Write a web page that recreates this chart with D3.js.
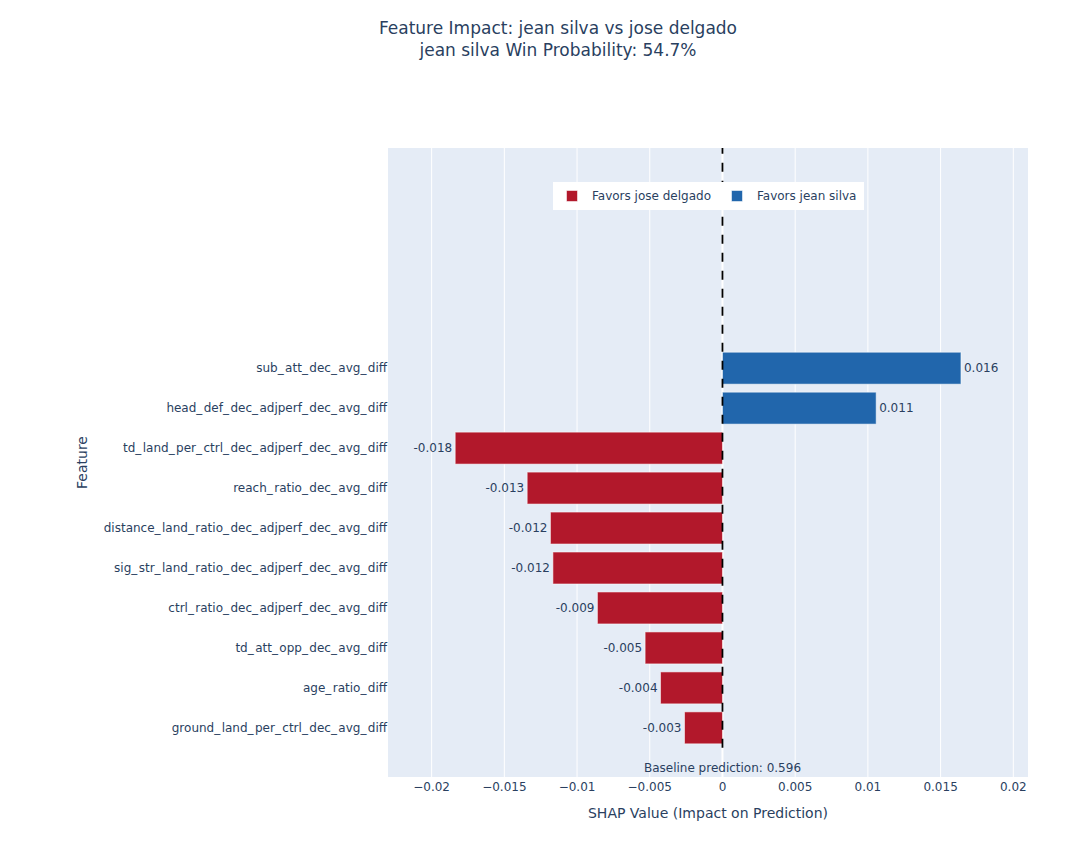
<!DOCTYPE html>
<html>
<head>
<meta charset="utf-8">
<script src="https://cdn.jsdelivr.net/npm/d3@7/dist/d3.min.js"></script>
<style>
  body { margin: 0; background: #fff; }
  svg { font-family: "DejaVu Sans", Verdana, sans-serif; }
</style>
</head>
<body>
<svg id="chart" width="1087" height="860"></svg>
<script>
// Data (top to bottom as displayed)
const features = [
  "sub_att_dec_avg_diff",
  "head_def_dec_adjperf_dec_avg_diff",
  "td_land_per_ctrl_dec_adjperf_dec_avg_diff",
  "reach_ratio_dec_avg_diff",
  "distance_land_ratio_dec_adjperf_dec_avg_diff",
  "sig_str_land_ratio_dec_adjperf_dec_avg_diff",
  "ctrl_ratio_dec_adjperf_dec_avg_diff",
  "td_att_opp_dec_avg_diff",
  "age_ratio_diff",
  "ground_land_per_ctrl_dec_avg_diff"
];
const shapValues = [0.0164, 0.01057, -0.01838, -0.01343, -0.01183, -0.01166, -0.0086, -0.00532, -0.00426, -0.00261];
const xTicks = [-0.02, -0.015, -0.01, -0.005, 0, 0.005, 0.01, 0.015, 0.02];
const legendLabels = ["Favors jose delgado", "Favors jean silva"];
const titleLines = ["Feature Impact: jean silva vs jose delgado", "jean silva Win Probability: 54.7%"];
const baseline = 0.596;

const RED = "#b2182b", BLUE = "#2166ac", TXT = "#2a3f5f";
const svg = d3.select("#chart");
const L = 388, R = 1028, T = 148, B = 777;

const x = d3.scaleLinear().domain([-0.02300, 0.02101]).range([L, R]);
// category index: bottom feature = 0
const n = features.length;
const y = d3.scaleLinear().domain([-1.23, 14.51]).range([B, T]);
const idx = i => n - 1 - i;

// background
svg.append("rect").attr("x", L).attr("y", T).attr("width", R - L).attr("height", B - T).attr("fill", "#e5ecf6");

// grid
const g = svg.append("g");
g.selectAll("line.grid").data(xTicks).enter().append("line")
  .attr("x1", d => x(d)).attr("x2", d => x(d)).attr("y1", T).attr("y2", B)
  .attr("stroke", "#fff").attr("stroke-width", d => d === 0 ? 2 : 1);

// bars
const barH = (y(0) - y(0.8));
svg.append("g").selectAll("rect").data(shapValues).enter().append("rect")
  .attr("x", d => Math.min(x(0), x(d)))
  .attr("width", d => Math.abs(x(d) - x(0)))
  .attr("y", (d, i) => y(idx(i)) - barH / 2)
  .attr("height", barH)
  .attr("fill", d => d < 0 ? RED : BLUE)
  .attr("stroke", "rgba(255,255,255,0.55)").attr("stroke-width", 1);

// value labels
svg.append("g").selectAll("text").data(shapValues).enter().append("text")
  .attr("x", d => d < 0 ? x(d) - 3 : x(d) + 3)
  .attr("y", (d, i) => y(idx(i)))
  .attr("dy", "0.35em")
  .attr("text-anchor", d => d < 0 ? "end" : "start")
  .attr("font-size", 12).attr("fill", TXT)
  .text(d => d.toFixed(3));

// zero dashed line (from below the last bar up to the top of the plot)
svg.append("line").attr("x1", x(0)).attr("x2", x(0)).attr("y1", y(-0.5)).attr("y2", T)
  .attr("stroke", "#000").attr("stroke-width", 1.8).attr("stroke-dasharray", "9,9");

// x axis tick labels
const fmtX = d => d === 0 ? "0" : String(d).replace("-", "\u2212");
svg.append("g").selectAll("text").data(xTicks).enter().append("text")
  .attr("x", d => x(d)).attr("y", B + 14)
  .attr("text-anchor", "middle").attr("font-size", 12).attr("fill", TXT)
  .text(fmtX);

// y axis tick labels (underscores slightly wider, like Verdana)
svg.append("g").selectAll("text").data(features).enter().append("text")
  .attr("x", L - 1).attr("y", (d, i) => y(idx(i)))
  .attr("dy", "0.35em").attr("text-anchor", "end")
  .attr("font-size", 12).attr("fill", TXT)
  .each(function (d) {
    const t = d3.select(this);
    d.split(/(_)/).filter(s => s.length).forEach(part => {
      const ts = t.append("tspan").text(part);
      if (part === "_") ts.attr("letter-spacing", "1.4px");
    });
  });

// baseline annotation
svg.append("text").attr("x", x(0)).attr("y", B - 9)
  .attr("dy", "0.35em").attr("text-anchor", "middle").attr("font-size", 12).attr("fill", TXT)
  .text("Baseline prediction: " + baseline.toFixed(3));

// axis titles
svg.append("text").attr("x", (L + R) / 2).attr("y", 818)
  .attr("text-anchor", "middle").attr("font-size", 14).attr("fill", TXT)
  .text("SHAP Value (Impact on Prediction)");
svg.append("text").attr("transform", `translate(87,${(T + B) / 2}) rotate(-90)`)
  .attr("text-anchor", "middle").attr("font-size", 14).attr("fill", TXT)
  .text("Feature");

// title
svg.append("g").selectAll("text").data(titleLines).enter().append("text")
  .attr("x", 558).attr("y", (d, i) => 34 + i * 22)
  .attr("text-anchor", "middle").attr("font-size", 17).attr("fill", TXT)
  .text(d => d);

// legend
const lg = svg.append("g");
lg.append("rect").attr("x", 553).attr("y", 182).attr("width", 311).attr("height", 28).attr("fill", "#fff");
const legItems = [{ label: legendLabels[0], color: RED, sx: 572 }, { label: legendLabels[1], color: BLUE, sx: 737 }];
legItems.forEach(it => {
  lg.append("rect").attr("x", it.sx - 5.5).attr("y", 196 - 5.5).attr("width", 11).attr("height", 11)
    .attr("fill", it.color).attr("stroke", "rgba(255,255,255,0.55)").attr("stroke-width", 1);
  lg.append("text").attr("x", it.sx + 20).attr("y", 196).attr("dy", "0.35em")
    .attr("font-size", 12).attr("fill", TXT).text(it.label);
});
</script>
</body>
</html>
